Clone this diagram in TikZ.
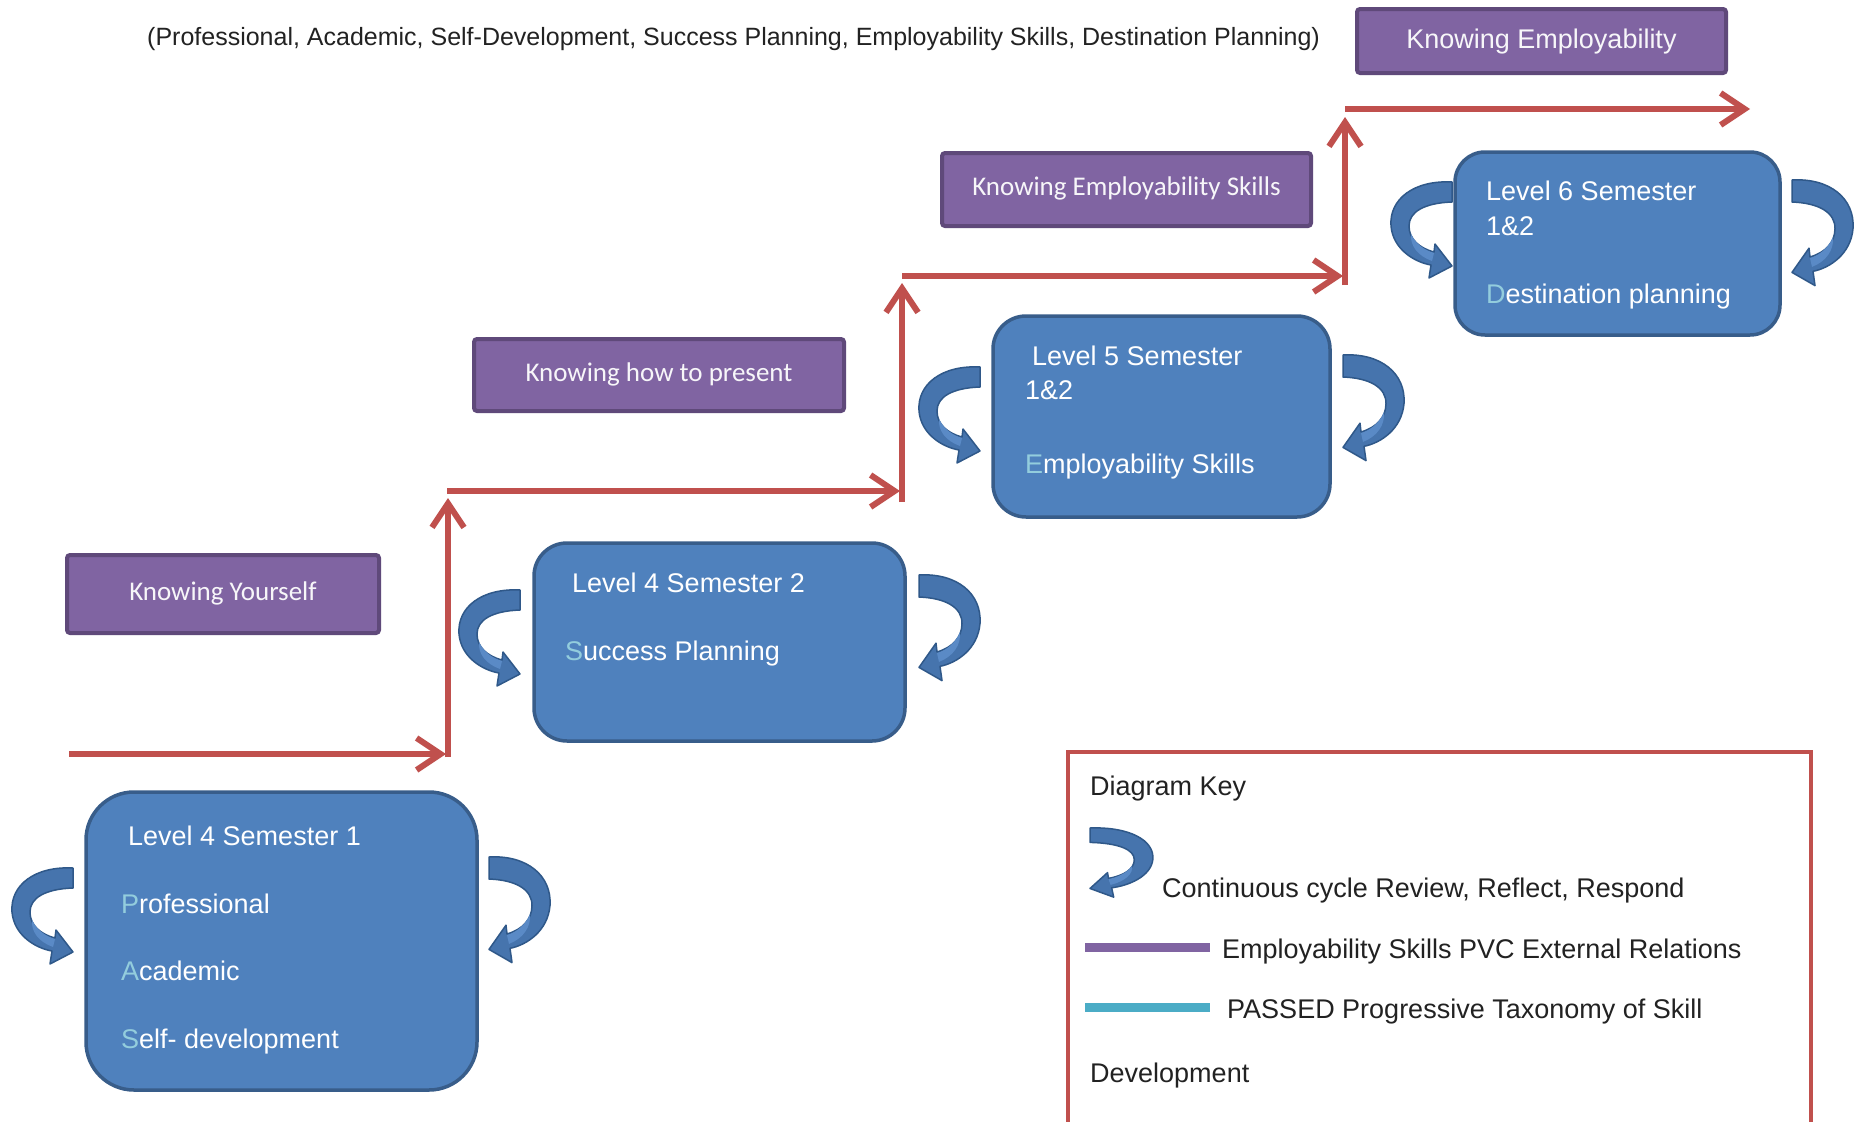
\documentclass[tikz,border=0pt]{standalone}
\usepackage{fontspec}
\setmainfont{Liberation Sans}
\newfontfamily\carlito{Carlito}
\usetikzlibrary{arrows.meta}
\definecolor{boxblue}{HTML}{4F81BD}
\definecolor{boxedge}{HTML}{385D8A}
\definecolor{arrblue}{HTML}{4674AD}
\definecolor{arrlight}{HTML}{5A8AC6}
\definecolor{arredge}{HTML}{2F5889}
\definecolor{purp}{HTML}{8064A2}
\definecolor{purpedge}{HTML}{5F497A}
\definecolor{redc}{HTML}{C0504D}
\definecolor{aqua}{HTML}{93CDDD}
\definecolor{cyanl}{HTML}{4BACC6}
\definecolor{txt}{HTML}{222222}
\tikzset{
  bluebox/.style={draw=boxedge, fill=boxblue, line width=3.5pt},
  purpbox/.style={draw=purpedge, fill=purp, line width=4pt, rounded corners=3pt, text=white!94!purp},
  btext/.style={anchor=base west, inner sep=0pt, text=white, font=\fontsize{27}{32}\selectfont},
  ltext/.style={anchor=base west, inner sep=0pt, text=txt, font=\fontsize{27}{32}\selectfont},
  redarrow/.style={draw=redc, line width=6pt, -{Straight Barb[length=24pt,width=32pt]}},
  legline/.style={line width=9pt},
  cycfill/.style={fill=arrblue, draw=arredge, line width=1.5pt, line join=round},
  cyclight/.style={fill=arrlight, draw=none}
}
% curved "review" arrow: #1,#2 = top point of the flat end, #3 = x scale (-1 mirrors), #4 = y scale
\newcommand\cycarrow[4]{%
  \path[cycfill, shift={(#1,#2)}, xscale=#3, yscale=#4]
    (0,0) .. controls (-38,-2) and (-63,17) .. (-61,44)
    .. controls (-59,67) and (-38,80) .. (-21,83)
    -- (-23,96) -- (0,84) -- (-17,62) -- (-18,70)
    .. controls (-33,66) and (-43,57) .. (-43,44)
    .. controls (-43,30) and (-28,21) .. (0,20) -- cycle;
  \path[cyclight, shift={(#1,#2)}, xscale=#3, yscale=#4]
    (-41,52) .. controls (-36,62) and (-28,68) .. (-18,71)
    -- (-20,79) .. controls (-34,74) and (-42,64) .. (-41,52) -- cycle;
}
\begin{document}
\begin{tikzpicture}[x=1pt,y=-1pt]
\useasboundingbox[fill=white] (0,0) rectangle (1856,1122);

% title line
\node[anchor=base west, inner sep=0pt, text=txt, font=\fontsize{25}{30}\selectfont] (title) at (147,45)
  {(Professional, Academic, Self-Development, Success Planning, Employability Skills, Destination Planning)};

% purple boxes
\node[purpbox, minimum width=312pt, minimum height=78pt, text height=19pt, text depth=7pt, font=\carlito\fontsize{27}{32}\selectfont] (p1) at (223,594) {Knowing Yourself};
\node[purpbox, minimum width=370pt, minimum height=72pt, text height=19pt, text depth=7pt, font=\carlito\fontsize{27}{32}\selectfont] (p2) at (659,375) {Knowing how to present};
\node[purpbox, minimum width=369pt, minimum height=73pt, text height=19pt, text depth=7pt, font=\carlito\fontsize{27}{32}\selectfont] (p3) at (1126.5,189.5) {Knowing Employability Skills};
\node[purpbox, minimum width=369pt, minimum height=64pt, text height=20.5pt, text depth=6.5pt, font=\fontsize{27}{32}\selectfont] (p4) at (1541.5,41) {Knowing Employability};

% red staircase
\coordinate (r0) at (69,754);
\coordinate (r1) at (446,754);
\coordinate (r2a) at (448,757);
\coordinate (r2b) at (448,498);
\coordinate (r3a) at (447,491);
\coordinate (r3b) at (900,491);
\coordinate (r4a) at (902,502);
\coordinate (r4b) at (902,283);
\coordinate (r5a) at (902,276);
\coordinate (r5b) at (1343,276);
\coordinate (r6a) at (1345,285);
\coordinate (r6b) at (1345,117);
\coordinate (r7a) at (1345,109);
\coordinate (r7b) at (1750,109);
\draw[redarrow] (r0) -- (r1);
\draw[redarrow] (r2a) -- (r2b);
\draw[redarrow] (r3a) -- (r3b);
\draw[redarrow] (r4a) -- (r4b);
\draw[redarrow] (r5a) -- (r5b);
\draw[redarrow] (r6a) -- (r6b);
\draw[redarrow] (r7a) -- (r7b);

% blue boxes
\node[bluebox, minimum width=391pt, minimum height=298pt, rounded corners=48pt] (A) at (281.5,941) {};
\node[bluebox, minimum width=371pt, minimum height=198pt, rounded corners=33pt] (B) at (719.5,642) {};
\node[bluebox, minimum width=337pt, minimum height=201pt, rounded corners=33pt] (C) at (1161.5,416.5) {};
\node[bluebox, minimum width=325pt, minimum height=183pt, rounded corners=30pt] (D) at (1617.5,243.5) {};

% box texts
\node[btext] (a1) at (128,845) {Level 4 Semester 1};
\node[btext] (a2) at (121,913) {{\color{aqua}P}rofessional};
\node[btext] (a3) at (121,980) {{\color{aqua}A}cademic};
\node[btext] (a4) at (121,1048) {{\color{aqua}S}elf- development};
\node[btext] (b1) at (572,592) {Level 4 Semester 2};
\node[btext] (b2) at (565,660) {{\color{aqua}S}uccess Planning};
\node[btext] (c1) at (1032,365) {Level 5 Semester};
\node[btext] (c2) at (1025,399) {1\&2};
\node[btext] (c3) at (1025,473) {{\color{aqua}E}mployability Skills};
\node[btext] (d1) at (1486,200) {Level 6 Semester};
\node[btext] (d2) at (1486,235) {1\&2};
\node[btext] (d3) at (1486,303) {{\color{aqua}D}estination planning};

% curved cycle arrows
\cycarrow{73}{868}{1}{1}
\cycarrow{489}{857}{-1}{1.1}
\cycarrow{520}{590}{1}{1}
\cycarrow{919}{575}{-1}{1.1}
\cycarrow{980}{367}{1}{1}
\cycarrow{1343}{355}{-1}{1.1}
\cycarrow{1452}{182}{1}{1}
\cycarrow{1792}{180}{-1}{1.1}

% legend
\coordinate (k0) at (1068,1126);
\coordinate (k1) at (1068,752);
\coordinate (k2) at (1811,752);
\coordinate (k3) at (1811,1126);
\draw[redc, line width=4pt] (k0) -- (k1) -- (k2) -- (k3);
\node[ltext] (kt) at (1090,795) {Diagram Key};
\cycarrow{1090}{828}{-1.03}{0.72}
\node[ltext] (k1t) at (1162,897) {Continuous cycle Review, Reflect, Respond};
\coordinate (lp0) at (1085,947);
\coordinate (lp1) at (1210,947);
\draw[legline, purp] (lp0) -- (lp1);
\node[ltext] (k2t) at (1222,958) {Employability Skills PVC External Relations};
\coordinate (lc0) at (1085,1007);
\coordinate (lc1) at (1210,1007);
\draw[legline, cyanl] (lc0) -- (lc1);
\node[ltext] (k3t) at (1227,1018) {PASSED Progressive Taxonomy of Skill};
\node[ltext] (k4t) at (1090,1082) {Development};
\end{tikzpicture}
\end{document}
